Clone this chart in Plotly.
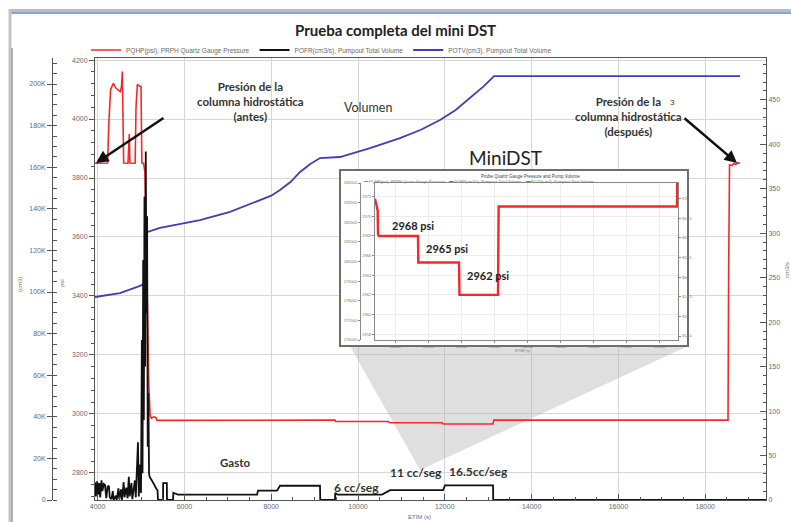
import plotly.graph_objects as go

# ---------------- data ----------------
# PQHP pressure, main chart (psi)
press_time = [3940, 4230, 4260, 4300, 4362, 4420, 4520, 4550, 4570, 4585, 4600, 4700, 4715, 4730,
              4745, 4865, 4885, 4916, 4960, 5000, 5012, 5020, 5060, 5090, 5120, 5150, 5180, 5210,
              5240, 5290, 5340, 5370, 5450, 7690, 9470, 9490, 10690, 10737, 11935, 11960, 13111,
              13130, 18525, 18540, 18560, 18620, 18660, 18700, 18760, 18800]
press_psi = [3850, 3851, 3990, 4100, 4121, 4105, 4093, 4110, 4161, 4000, 3851, 3850, 3945, 3949,
             3851, 3850, 4040, 4118, 4112, 4110, 3950, 3851, 3850, 3820, 3600, 3300, 3100, 2995,
             2985, 2990, 2988, 2978, 2978, 2977, 2979, 2974, 2974, 2970, 2970, 2966, 2966,
             2979, 2979, 3500, 3845, 3842, 3850, 3846, 3852, 3850]

# POFR pump flow rate (cm3/s)
rate_time = [3940, 3960, 3990, 4010, 4040, 4060, 4090, 4110, 4140, 4170, 4200, 4230, 4260, 4280,
             4320, 4350, 4370, 4420, 4440, 4480, 4500, 4540, 4560, 4600, 4620, 4660, 4690, 4720,
             4740, 4780, 4800, 4860, 4880, 4930, 4950, 4980, 5000, 5020, 5035, 5050, 5065, 5080,
             5095, 5110, 5125, 5140, 5155, 5170, 5185, 5200, 5250, 5300, 5350, 5380, 5392, 5507,
             5510, 5595, 5599, 5737, 5745, 5800, 5850, 7673, 7696, 8134, 8203, 9124, 9130, 9470,
             9475, 9530, 10553, 10737, 11959, 12005, 13111, 13115, 19400]
rate_cc = [20, 4, 21, 6, 19, 3, 22, 10, 18, 17, 2, 15, 16, 3,
           1, 10, 0, 5, 0, 13, 1, 12, 0, 20, 3, 14, 2, 26,
           4, 19, 1, 22, 3, 65, 4, 40, 8, 180, 30, 270, 90, 341,
           150, 392, 210, 319, 60, 120, 30, 26, 22, 17, 13, 11, 0, 0,
           19, 19, 0, 0, 8, 7, 6, 6, 10.5, 10.5, 16, 16, 0, 0,
           8, 6, 6, 11, 11, 16.5, 16.5, 0, 0]

# POTV pumpout total volume (cm3)
vol_time = [3940, 4516, 4977, 5092, 5138, 5438, 6359, 7051, 7742, 8000, 8203, 8450, 8664, 8900,
            9124, 9585, 10276, 10968, 11450, 11889, 12250, 12581, 12900, 13134, 18802]
vol_cm3 = [97600, 99500, 102900, 104300, 128800, 130800, 134600, 138500, 144200, 146300,
           149000, 153000, 157700, 161500, 164400, 164900, 169200, 174000, 178000, 182700,
           187500, 193300, 199000, 203800, 203800]

# Inset (MiniDST detail) pressure
inset_time = [9389, 9430, 9470, 9480, 9500, 10690, 10700, 11931, 11945, 13111, 13130, 18530, 18558]
inset_psi = [2971.8, 2971.3, 2970.6, 2968.2, 2968.0, 2968.0, 2965.3, 2965.3, 2962.0, 2962.0,
             2971.0, 2971.0, 2990.0]

x_ticks = [4000, 6000, 8000, 10000, 12000, 14000, 16000, 18000]
psi_ticks = [2800, 3000, 3200, 3400, 3600, 3800, 4000, 4200]
cm3_ticks = [0, 20000, 40000, 60000, 80000, 100000, 120000, 140000, 160000, 180000, 200000]
cm3_labels = ["0", "20K", "40K", "60K", "80K", "100K", "120K", "140K", "160K", "180K", "200K"]
rate_ticks = [0, 50, 100, 150, 200, 250, 300, 350, 400, 450]
inset_x_ticks = [10000, 11000, 12000, 13000, 14000, 15000, 16000, 17000, 18000]

legend_names = ["PQHP(psi), PRPH Quartz Gauge Pressure",
                "POFR(cm3/s), Pumpout Total Volume",
                "POTV(cm3), Pumpout Total Volume"]

# ---------------- geometry ----------------
W, H = 791, 522
ML, MR, MT, MB = 52, 25, 58, 22
PW = W - ML - MR
PH = H - MT - MB
X_RANGE = [3940, 19400]
PSI_RANGE = [2708, 4207]
CM3_RANGE = [0, 212500]
RATE_RANGE = [0, 497]
INSET_X = [9389, 18558]
INSET_Y = [2957.4, 2973.4]


def pxp(px):
    return (px - ML) / PW


def pyp(py):
    return (H - MB - py) / PH


def px2x(px):
    return X_RANGE[0] + (px - 95) * (X_RANGE[1] - X_RANGE[0]) / (W - MR - 95)


def py2psi(py):
    return PSI_RANGE[1] - (py - MT) * (PSI_RANGE[1] - PSI_RANGE[0]) / PH


RED = "#f02a2a"
BLUE = "#3f3fb0"
BLACK = "#111111"
GRID = "#d6d6d6"
AX = "#555555"
TICKF = dict(family="Liberation Sans", size=7, color="#6a6a6a")

fig = go.Figure()
fig.add_trace(go.Scatter(x=press_time, y=press_psi, mode="lines", name=legend_names[0],
                         line=dict(color=RED, width=1.6), xaxis="x", yaxis="y"))
fig.add_trace(go.Scatter(x=rate_time, y=rate_cc, mode="lines", name=legend_names[1],
                         line=dict(color=BLACK, width=1.8), xaxis="x", yaxis="y3"))
fig.add_trace(go.Scatter(x=vol_time, y=vol_cm3, mode="lines", name=legend_names[2],
                         line=dict(color=BLUE, width=1.8), xaxis="x", yaxis="y2"))
# inset
fig.add_trace(go.Scatter(x=inset_time, y=inset_psi, mode="lines", showlegend=False,
                         line=dict(color=RED, width=2.4), xaxis="x2", yaxis="y4"))
fig.add_trace(go.Scatter(x=[], y=[], mode="lines", showlegend=False, xaxis="x2", yaxis="y5"))
fig.add_trace(go.Scatter(x=[], y=[], mode="lines", showlegend=False, xaxis="x2", yaxis="y6"))

small_tick = dict(family="Liberation Sans", size=4, color="#777")

fig.update_layout(
    width=W, height=H,
    margin=dict(l=ML, r=MR, t=MT, b=MB),
    paper_bgcolor="white", plot_bgcolor="white",
    font=dict(family="Liberation Sans"),
    showlegend=True,
    legend=dict(orientation="h", x=pxp(86), y=pyp(50), xanchor="left", yanchor="middle",
                font=dict(size=6.5, color="#6a6a6a"), itemwidth=30, bgcolor="rgba(0,0,0,0)",
                tracegroupgap=0),
    xaxis=dict(domain=[pxp(95), 1], range=X_RANGE, tickvals=x_ticks, tickformat="d",
               showgrid=True, gridcolor=GRID, showline=True, linecolor=AX, mirror=True,
               ticks="inside", ticklen=6, tickcolor=AX, zeroline=False, tickfont=TICKF,
               minor=dict(dtick=500, ticks="inside", ticklen=3, tickcolor=AX)),
    yaxis=dict(range=PSI_RANGE, tickvals=psi_ticks, showgrid=True, gridcolor=GRID,
               showline=True, linecolor=AX, mirror=True, ticks="outside", ticklen=5,
               tickcolor=AX, zeroline=False, tickfont=TICKF,
               minor=dict(dtick=40, ticks="outside", ticklen=3, tickcolor=AX)),
    yaxis2=dict(overlaying="y", anchor="free", position=0, side="left", range=CM3_RANGE,
                tickvals=cm3_ticks, ticktext=cm3_labels, showgrid=False, zeroline=False,
                showline=True, linecolor=AX, ticks="outside", ticklen=5, tickcolor=AX,
                tickfont=TICKF,
                minor=dict(dtick=5000, ticks="inside", ticklen=4, tickcolor=AX)),
    yaxis3=dict(overlaying="y", anchor="x", side="right", range=RATE_RANGE,
                tickvals=rate_ticks, showgrid=False, zeroline=False, showline=True,
                linecolor=AX, ticks="inside", ticklen=6, tickcolor=AX, tickfont=TICKF,
                minor=dict(dtick=10, ticks="inside", ticklen=3, tickcolor=AX)),
    xaxis2=dict(domain=[pxp(375), pxp(678)], anchor="y4", range=INSET_X,
                tickvals=inset_x_ticks, tickformat="d", tickfont=small_tick, showline=True,
                mirror=True, linecolor="#888", ticks="outside", ticklen=2, tickcolor="#888",
                showgrid=True, gridcolor="#ececec", zeroline=False),
    yaxis4=dict(domain=[pyp(340), pyp(183)], anchor="x2", range=INSET_Y, dtick=2,
                tickfont=small_tick, showline=True, mirror=True, linecolor="#888",
                ticks="outside", ticklen=2, tickcolor="#888", showgrid=True,
                gridcolor="#ececec", zeroline=False),
    yaxis5=dict(overlaying="y4", anchor="free", position=pxp(360), side="left",
                range=[176000, 184000], dtick=1000, tickformat="d", tickfont=small_tick,
                showline=True, linecolor="#888", ticks="outside", ticklen=2,
                tickcolor="#888", showgrid=False, zeroline=False),
    yaxis6=dict(overlaying="y4", anchor="x2", side="right", range=[352, 372], dtick=2.5,
                tickfont=small_tick, showline=True, linecolor="#888", ticks="outside",
                ticklen=2, tickcolor="#888", showgrid=False, zeroline=False),
)

shapes = []
# funnel below the inset
fx = [px2x(350), px2x(688), px2x(420)]
fy = [py2psi(346), py2psi(346), py2psi(470)]
shapes.append(dict(type="path", xref="x", yref="y", layer="between",
                   path=f"M {fx[0]},{fy[0]} L {fx[1]},{fy[1]} L {fx[2]},{fy[2]} Z",
                   fillcolor="rgba(175,175,175,0.40)", line=dict(width=0)))
# inset frame
shapes.append(dict(type="rect", xref="x", yref="y", layer="between",
                   x0=px2x(340), x1=px2x(688), y0=py2psi(346), y1=py2psi(170),
                   fillcolor="white", line=dict(color="#6e6e6e", width=2)))
# page frame decorations
shapes.append(dict(type="line", xref="paper", yref="paper", x0=pxp(9), x1=pxp(791),
                   y0=pyp(10.5), y1=pyp(10.5), line=dict(color="#bdbdbd", width=3)))
shapes.append(dict(type="line", xref="paper", yref="paper", x0=pxp(9), x1=pxp(791),
                   y0=pyp(13), y1=pyp(13), line=dict(color="#86a2dc", width=2)))
shapes.append(dict(type="line", xref="paper", yref="paper", x0=pxp(10), x1=pxp(10),
                   y0=pyp(9), y1=pyp(522), line=dict(color="#c4c4c4", width=3)))
shapes.append(dict(type="line", xref="paper", yref="paper", x0=pxp(12), x1=pxp(12),
                   y0=pyp(48), y1=pyp(522), line=dict(color="#9a9a9a", width=1.5)))
fig.update_layout(shapes=shapes)

ann = []


def txt(text, px, py, size, color="#2b2b2b", family="Lato", angle=0, xanchor="center"):
    ann.append(dict(text=text, x=pxp(px), y=pyp(py), xref="paper", yref="paper",
                    showarrow=False, xanchor=xanchor, yanchor="middle", textangle=angle,
                    font=dict(size=size, color=color, family=family)))


txt("<b>Prueba completa del mini DST</b>", 395, 30, 15, "#222")
txt("<b>Presión de la<br>columna hidrostática<br>(antes)</b>", 250, 101, 11.5, "#333")
txt("<b>Presión de la<br>columna hidrostática<br>(después)</b>", 628, 117, 11.5, "#333")
txt("Volumen", 368, 107, 12.5, "#333")
txt("MiniDST", 505, 157, 19, "#222")
txt("<b>Gasto</b>", 235, 462, 11.5, "#333")
txt("<b>6 cc/seg</b>", 356, 487, 12, "#333")
txt("<b>11 cc/seg</b>", 416, 472, 12, "#333")
txt("<b>16.5cc/seg</b>", 478, 471, 12, "#333")
txt("<b>2968 psi</b>", 413, 225, 11, "#222")
txt("<b>2965 psi</b>", 447, 248, 11, "#222")
txt("<b>2962 psi</b>", 488, 275, 11, "#222")
txt("3", 672, 103, 8, "#333", "Liberation Sans")
txt("(cm3)", 20, 285, 6, "#9a6a4a", "Liberation Sans", -90)
txt("psi", 62, 283, 6, "#9a6a4a", "Liberation Sans", -90)
txt("cm3/s", 787, 270, 6, "#9a6a4a", "Liberation Sans", -90)
txt("ETIM (s)", 420, 517, 6, "#5a6a9a", "Liberation Sans")
txt("Probe Quartz Gauge Pressure and Pump Volume", 530, 176, 4.5, "#444", "Liberation Sans")
txt("<span style='color:#f02a2a'>━━</span> PQHP(psi), PRPH Quartz Gauge Pressure    "
    "<span style='color:#333'>━━</span> POFR(cm3/s), Pumpout Total Volume    "
    "<span style='color:#3f3fb0'>━━</span> POTV(cm3), Pumpout Total Volume",
    479, 181, 4, "#777", "Liberation Sans")
txt("ETIM (s)", 523, 350, 4, "#777", "Liberation Sans")

# arrows
ann.append(dict(x=pxp(96), y=pyp(163), xref="paper", yref="paper", text="", showarrow=True,
                ax=69, ay=-46, arrowhead=2, arrowsize=1, arrowwidth=2.5, arrowcolor="#111"))
ann.append(dict(x=pxp(737), y=pyp(163), xref="paper", yref="paper", text="", showarrow=True,
                ax=-54, ay=-46, arrowhead=2, arrowsize=1, arrowwidth=2.5, arrowcolor="#111"))
fig.update_layout(annotations=ann)

fig.write_html("out.html")
